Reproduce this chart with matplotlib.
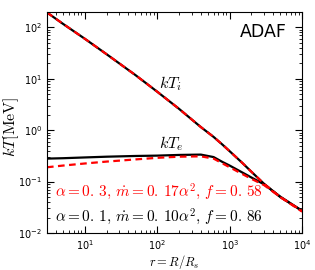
import matplotlib
matplotlib.use('Agg')
import matplotlib.pyplot as plt
import numpy as np

plt.rcParams['mathtext.fontset'] = 'cm'

# radius r = R/R_s
r = [3, 5, 10, 20, 50, 100, 200, 400, 600, 800, 1000, 1500, 2000, 3000, 5000, 10000]

# ion temperature (same for both models)
Ti_a = [195, 117, 60, 30, 11.8, 5.6, 2.6, 1.15, 0.74, 0.52, 0.39, 0.23, 0.155, 0.09, 0.05, 0.027]
Ti_b = [195, 117, 60, 30, 11.8, 5.6, 2.6, 1.15, 0.74, 0.52, 0.39, 0.23, 0.155, 0.09, 0.05, 0.027]

# electron temperature
Te_a = [0.28, 0.285, 0.295, 0.305, 0.315, 0.32, 0.33, 0.335, 0.30, 0.24, 0.205, 0.15, 0.12, 0.088, 0.051, 0.027]
Te_b = [0.19, 0.205, 0.225, 0.245, 0.27, 0.29, 0.305, 0.31, 0.28, 0.225, 0.19, 0.14, 0.113, 0.085, 0.05, 0.026]

fig = plt.figure(figsize=(3.15, 2.7), dpi=100)
ax = fig.add_axes([0.149, 0.137, 0.81, 0.819])

ax.plot(r, Ti_a, color='black', lw=1.6)
ax.plot(r, Te_a, color='black', lw=1.6)
ax.plot(r, Ti_b, color='red', lw=1.6, ls='--', dashes=(3, 2))
ax.plot(r, Te_b, color='red', lw=1.6, ls='--', dashes=(3, 2))

ax.set_xscale('log')
ax.set_yscale('log')
ax.set_xlim(3, 1e4)
ax.set_ylim(1e-2, 200)

ax.tick_params(which='both', direction='in', top=True, right=True, labelsize=7)
ax.tick_params(which='major', length=5)
ax.tick_params(which='minor', length=2.5)

ax.set_xlabel(r'$r=R/R_s$', fontsize=9, labelpad=1)
ax.set_ylabel(r'$kT[\mathrm{MeV}]$', fontsize=11.5)
ax.yaxis.set_label_coords(-0.1, 0.48)

ax.text(0.94, 0.91, 'ADAF', transform=ax.transAxes, ha='right', va='center', fontsize=12.5)
ax.text(106, 6.6, r'$kT_i$', fontsize=11.5)
ax.text(106, 0.45, r'$kT_e$', fontsize=11.5)
ax.text(0.03, 0.185, r'$\alpha=0.\,3,\,\dot m=0.\,17\alpha^2,\,f=0.\,58$', color='red',
        transform=ax.transAxes, fontsize=11, va='center')
ax.text(0.03, 0.075, r'$\alpha=0.\,1,\,\dot m=0.\,10\alpha^2,\,f=0.\,86$', color='black',
        transform=ax.transAxes, fontsize=11, va='center')

plt.savefig('out.png', dpi=100)
